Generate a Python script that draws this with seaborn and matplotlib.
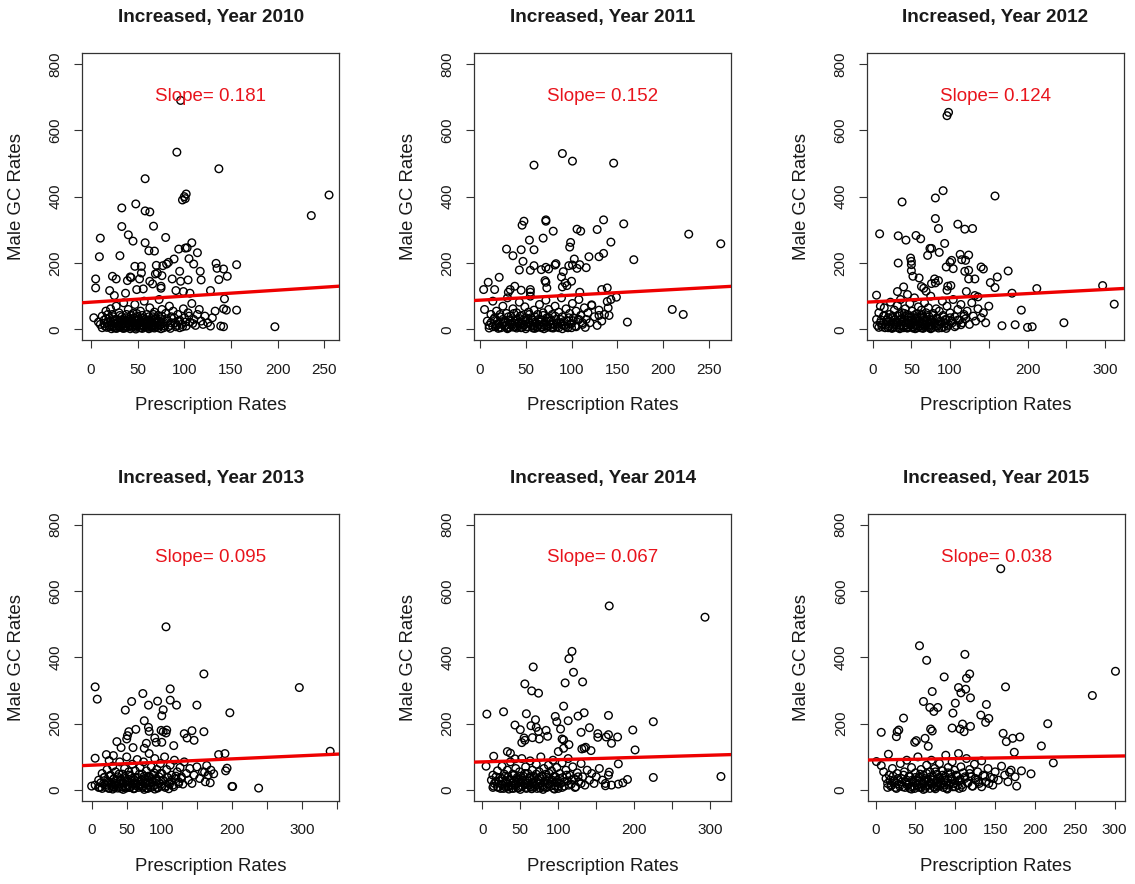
import matplotlib
matplotlib.use("Agg")
import matplotlib.pyplot as plt
import numpy as np
import pandas as pd
import seaborn as sns

years = [2010, 2011, 2012, 2013, 2014, 2015]
slopes = [0.181, 0.152, 0.124, 0.095, 0.067, 0.038]
intercepts = [82, 88, 83, 75, 85, 91]
x_ticks = [[0, 50, 100, 150, 200, 250],
           [0, 50, 100, 150, 200, 250],
           [0, 50, 100, 150, 200, 250, 300],
           [0, 50, 100, 150, 200, 250, 300, 350],
           [0, 50, 100, 150, 200, 250, 300],
           [0, 50, 100, 150, 200, 250, 300]]
x_tick_labels = [["0", "50", "100", "150", "200", "250"],
                 ["0", "50", "100", "150", "200", "250"],
                 ["0", "50", "100", "", "200", "", "300"],
                 ["0", "50", "100", "", "200", "", "300", ""],
                 ["0", "50", "100", "", "200", "", "300"],
                 ["0", "50", "100", "150", "200", "250", "300"]]
y_ticks = [0, 200, 400, 600, 800]
x_limits = [(-9.3, 266), (-6.2, 274.5), (-7.3, 324.6), (-13.3, 353), (-10.5, 327.6), (-10, 312.6)]
y_limits = (-32, 832)

# (prescription rate, male GC rate) pairs
pts_2010 = [
    (96, 690), (92, 534), (137, 484), (58, 454), (100, 400), (101, 394), (98, 390), (102, 408), (255, 405),
    (236, 343), (33, 366), (48, 378), (58, 357), (63, 354), (33, 310), (67, 311), (40, 285), (45, 266),
    (10, 275), (80, 277), (58, 261), (108, 261), (103, 246), (101, 245), (94, 242), (62, 237), (68, 236),
    (9, 219), (31, 222), (114, 231), (89, 212), (83, 202), (81, 197), (105, 213), (110, 197), (134, 199),
    (156, 195), (47, 190), (54, 190), (70, 193), (77, 192), (135, 184), (142, 182), (117, 175), (95, 175),
    (42, 158), (43, 156), (23, 160), (27, 152), (54, 170), (52, 152), (69, 167), (71, 170), (76, 162),
    (146, 160), (137, 150), (5, 152), (5, 125), (39, 147), (87, 152), (96, 145), (104, 149), (118, 149),
    (63, 145), (66, 137), (49, 120), (56, 122), (75, 130), (75, 124), (20, 117), (25, 102), (37, 109),
    (91, 117), (99, 114), (106, 109), (128, 117), (143, 92), (142, 62), (145, 58), (156, 58), (197, 8),
    (139, 10), (142, 8),
    (3, 35), (8, 22), (10, 15), (12, 40), (14, 28), (15, 10), (16, 55), (18, 20), (19, 8), (20, 35),
    (21, 62), (22, 14), (23, 45), (24, 25), (25, 5), (26, 18), (27, 70), (28, 30), (29, 12), (30, 50),
    (31, 22), (32, 8), (33, 38), (34, 15), (35, 80), (36, 28), (37, 5), (38, 45), (39, 18), (40, 60),
    (41, 10), (42, 32), (43, 22), (44, 6), (45, 48), (46, 15), (47, 75), (48, 28), (49, 10), (50, 40),
    (51, 20), (52, 5), (53, 55), (54, 25), (55, 12), (56, 35), (57, 85), (58, 18), (59, 8), (60, 45),
    (61, 28), (62, 12), (63, 65), (64, 22), (65, 5), (66, 38), (67, 15), (68, 52), (69, 30), (70, 8),
    (71, 20), (72, 42), (73, 90), (74, 12), (75, 32), (76, 60), (77, 18), (78, 5), (80, 48), (82, 25),
    (84, 70), (85, 12), (86, 38), (88, 55), (90, 20), (91, 8), (93, 45), (95, 28), (97, 15), (99, 62),
    (100, 35), (102, 10), (104, 50), (106, 22), (108, 78), (110, 30), (112, 12), (114, 45), (116, 60),
    (118, 25), (120, 15), (122, 40), (125, 20), (128, 10), (130, 35), (133, 55),
    (22, 2), (28, 4), (35, 3), (42, 2), (48, 1), (55, 3), (62, 2), (68, 4), (75, 2), (85, 3), (95, 5),
    (12, 5), (14, 18), (16, 32), (17, 6), (18, 45), (20, 12), (21, 25), (23, 8), (24, 38), (25, 16),
    (26, 30), (27, 3), (29, 22), (30, 8), (31, 42), (32, 15), (33, 28), (34, 4), (35, 20), (36, 10),
    (37, 35), (38, 25), (39, 6), (40, 30), (41, 18), (42, 12), (43, 42), (44, 26), (45, 9), (46, 35),
    (47, 20), (48, 6), (49, 48), (50, 15), (51, 30), (52, 12), (53, 22), (54, 5), (55, 42), (56, 20),
    (57, 8), (58, 30), (59, 15), (60, 25), (61, 6), (62, 38), (63, 18), (64, 10), (65, 28), (66, 6),
    (67, 45), (68, 20), (69, 12), (70, 35), (72, 5), (73, 25), (74, 15), (76, 40), (78, 22), (79, 10),
    (81, 32), (83, 8), (86, 20), (89, 35), (92, 12), (94, 25), (98, 8), (101, 22), (105, 40), (109, 18),
]
pts_2011 = [
    (90, 530), (101, 507), (59, 495), (146, 501), (72, 330), (72, 326), (48, 326), (46, 314), (135, 330),
    (157, 318), (80, 296), (106, 302), (110, 296), (128, 301), (228, 287), (263, 258), (54, 269), (69, 275),
    (99, 262), (98, 248), (143, 263), (29, 242), (45, 240), (59, 240), (36, 222), (135, 229), (130, 219),
    (119, 219), (103, 212), (101, 194), (168, 210), (47, 205), (83, 198), (82, 194), (59, 192), (72, 187),
    (67, 180), (75, 182), (55, 178), (43, 179), (109, 195), (106, 184), (116, 186), (97, 192), (91, 174),
    (89, 158), (21, 157), (9, 142), (16, 120), (4, 120), (71, 147), (72, 142), (73, 125), (100, 145),
    (93, 140), (95, 132), (90, 128), (38, 130), (33, 120), (31, 112), (45, 118), (55, 120), (55, 112),
    (133, 120), (139, 125), (149, 97), (139, 84), (122, 74), (141, 42), (161, 22), (130, 42), (210, 60),
    (222, 45), (109, 112),
    (5, 60), (8, 25), (10, 12), (12, 45), (14, 85), (15, 30), (17, 8), (18, 55), (20, 18), (22, 38),
    (23, 5), (25, 70), (26, 22), (28, 12), (29, 48), (30, 95), (31, 28), (32, 6), (34, 40), (35, 15),
    (36, 62), (38, 25), (39, 8), (40, 50), (42, 18), (43, 82), (44, 32), (45, 5), (46, 42), (48, 12),
    (49, 68), (50, 28), (52, 8), (53, 52), (54, 20), (55, 100), (56, 35), (58, 10), (59, 58), (60, 22),
    (62, 6), (63, 45), (64, 15), (65, 75), (66, 30), (68, 8), (69, 50), (70, 18), (72, 88), (73, 35),
    (74, 10), (75, 60), (76, 25), (78, 5), (79, 45), (80, 15), (82, 70), (83, 30), (84, 8), (86, 52),
    (88, 20), (89, 95), (90, 38), (92, 12), (94, 62), (95, 25), (96, 5), (98, 48), (100, 18), (101, 78),
    (102, 35), (104, 10), (105, 55), (107, 28), (108, 90), (110, 42), (112, 15), (114, 65), (116, 30),
    (118, 50), (120, 20), (122, 72), (125, 38), (128, 12), (130, 58), (133, 25), (136, 45), (140, 65),
    (143, 90), (20, 3), (30, 2), (40, 4), (50, 2), (60, 3), (70, 2), (80, 4), (90, 2), (100, 5),
    (10, 4), (12, 20), (14, 8), (16, 35), (18, 12), (19, 26), (21, 6), (22, 45), (24, 15), (25, 30),
    (27, 9), (28, 22), (30, 5), (31, 38), (33, 14), (34, 25), (36, 7), (37, 48), (38, 18), (40, 30),
    (41, 10), (43, 22), (44, 40), (46, 6), (47, 28), (48, 15), (50, 35), (51, 8), (53, 20), (54, 45),
    (56, 12), (57, 28), (58, 4), (60, 38), (61, 18), (63, 8), (64, 30), (66, 22), (67, 5), (69, 42),
    (70, 12), (72, 25), (73, 6), (75, 35), (77, 15), (78, 28), (80, 8), (82, 40), (84, 18), (86, 5),
    (88, 30), (90, 14), (92, 24), (94, 8), (97, 35), (99, 16), (102, 26), (105, 8), (108, 30), (112, 20),
    (115, 6),
]
pts_2012 = [
    (98, 654), (96, 644), (91, 418), (81, 396), (158, 402), (38, 384), (81, 334), (85, 304), (110, 317),
    (119, 302), (129, 304), (9, 288), (33, 282), (43, 269), (56, 283), (62, 273), (93, 259), (74, 244),
    (76, 244), (86, 232), (71, 223), (113, 226), (115, 210), (124, 224), (120, 208), (49, 215), (50, 205),
    (50, 195), (50, 177), (52, 160), (33, 200), (102, 208), (100, 202), (95, 188), (104, 183), (119, 175),
    (124, 178), (124, 152), (132, 152), (140, 188), (143, 182), (175, 176), (60, 155), (80, 152), (85, 147),
    (81, 140), (76, 138), (161, 158), (152, 141), (158, 126), (97, 130), (101, 132), (96, 118), (40, 128),
    (32, 114), (45, 105), (63, 129), (66, 124), (69, 115), (121, 114), (132, 102), (136, 98), (180, 109),
    (212, 123), (297, 132), (312, 76), (5, 103), (10, 70), (192, 58), (167, 11), (184, 14), (200, 6),
    (206, 8), (247, 20),
    (5, 30), (6, 12), (8, 50), (10, 20), (12, 8), (14, 40), (15, 65), (17, 15), (18, 28), (20, 5),
    (22, 45), (23, 82), (24, 18), (26, 35), (27, 8), (28, 58), (30, 22), (31, 12), (32, 72), (33, 40),
    (34, 5), (35, 28), (36, 90), (37, 15), (38, 50), (40, 10), (41, 35), (42, 62), (43, 20), (44, 5),
    (45, 45), (46, 28), (48, 78), (49, 12), (50, 38), (51, 55), (52, 8), (53, 22), (54, 95), (55, 32),
    (56, 15), (57, 48), (58, 5), (59, 68), (60, 25), (61, 10), (62, 42), (63, 58), (64, 18), (65, 5),
    (66, 35), (67, 80), (68, 12), (69, 50), (70, 25), (71, 8), (72, 65), (73, 38), (74, 15), (75, 100),
    (76, 28), (77, 5), (78, 48), (80, 18), (82, 62), (83, 35), (84, 10), (86, 55), (88, 22), (90, 85),
    (91, 42), (92, 8), (94, 30), (96, 70), (98, 15), (100, 50), (102, 25), (104, 90), (106, 38), (108, 12),
    (110, 60), (112, 28), (114, 75), (116, 20), (118, 45), (120, 32), (122, 55), (125, 15), (128, 80),
    (130, 40), (133, 25), (136, 62), (140, 35), (143, 50), (146, 20), (150, 70),
    (25, 3), (35, 2), (45, 4), (55, 2), (65, 3), (75, 2), (85, 4), (95, 3),
    (8, 6), (11, 28), (13, 14), (15, 42), (16, 5), (18, 22), (20, 35), (21, 10), (23, 25), (25, 5),
    (26, 40), (28, 16), (29, 30), (31, 6), (32, 20), (34, 45), (35, 12), (37, 32), (38, 22), (40, 5),
    (41, 48), (43, 14), (44, 28), (46, 8), (47, 38), (49, 18), (50, 28), (52, 4), (53, 42), (55, 12),
    (56, 25), (58, 35), (59, 10), (61, 20), (62, 5), (64, 45), (65, 15), (67, 28), (68, 8), (70, 38),
    (71, 18), (73, 5), (74, 30), (76, 12), (78, 42), (79, 22), (81, 8), (83, 32), (85, 15), (87, 25),
    (89, 5), (91, 38), (93, 18), (95, 28), (97, 10), (100, 35), (103, 20), (106, 8), (110, 28), (114, 14),
    (118, 40),
]
pts_2013 = [
    (106, 492), (160, 350), (5, 311), (8, 274), (296, 309), (112, 305), (112, 271), (121, 256), (73, 291),
    (94, 268), (81, 256), (57, 267), (48, 241), (102, 242), (100, 224), (150, 256), (197, 233), (75, 209),
    (81, 189), (82, 177), (63, 183), (53, 176), (51, 164), (50, 154), (99, 180), (107, 181), (106, 172),
    (102, 176), (143, 179), (160, 176), (132, 170), (136, 157), (146, 150), (36, 146), (42, 128), (90, 157),
    (92, 144), (78, 141), (75, 126), (59, 128), (100, 144), (117, 134), (5, 96), (21, 107), (31, 104),
    (25, 89), (181, 107), (190, 110), (340, 117), (193, 66), (191, 58), (164, 74), (174, 49), (169, 22),
    (161, 54), (200, 11), (201, 11), (238, 6), (0, 12),
    (5, 15), (10, 30), (12, 8), (15, 50), (17, 20), (18, 38), (20, 10), (22, 62), (24, 25), (25, 5),
    (27, 45), (28, 15), (30, 72), (31, 32), (32, 8), (34, 55), (35, 20), (37, 40), (38, 12), (40, 85),
    (41, 28), (42, 5), (44, 48), (45, 18), (47, 65), (48, 35), (49, 10), (50, 100), (52, 25), (53, 55),
    (54, 8), (56, 42), (57, 15), (58, 78), (60, 30), (61, 5), (62, 58), (64, 20), (65, 92), (66, 38),
    (68, 12), (69, 68), (70, 25), (72, 48), (73, 8), (74, 85), (76, 35), (77, 18), (78, 58), (80, 5),
    (81, 42), (82, 110), (84, 22), (85, 70), (86, 32), (88, 12), (89, 52), (90, 95), (92, 28), (93, 62),
    (94, 8), (96, 40), (98, 80), (99, 18), (100, 50), (102, 30), (104, 100), (105, 12), (107, 62),
    (108, 38), (110, 22), (112, 75), (114, 45), (116, 15), (118, 90), (120, 35), (122, 55), (124, 25),
    (126, 68), (128, 40), (130, 18), (132, 85), (135, 50), (138, 30), (140, 65), (143, 20), (146, 45),
    (150, 70), (154, 35), (158, 55), (162, 25), (166, 45), (170, 60),
    (30, 3), (45, 2), (60, 4), (75, 2), (90, 3), (110, 4),
    (10, 8), (13, 22), (15, 5), (18, 38), (20, 16), (22, 28), (24, 6), (26, 42), (28, 20), (30, 10),
    (32, 35), (34, 15), (35, 26), (37, 6), (39, 48), (40, 18), (42, 32), (44, 10), (45, 22), (47, 40),
    (49, 6), (50, 28), (52, 15), (54, 45), (55, 8), (57, 30), (59, 20), (60, 5), (62, 38), (63, 14),
    (65, 26), (67, 8), (68, 48), (70, 18), (71, 32), (73, 12), (75, 42), (76, 22), (78, 6), (80, 30),
    (81, 15), (83, 40), (85, 8), (86, 25), (88, 45), (90, 15), (92, 35), (94, 6), (96, 22), (98, 50),
    (100, 12), (102, 28), (105, 8), (108, 38), (111, 18), (114, 30), (117, 10), (120, 42), (124, 20),
    (128, 35),
]
pts_2014 = [
    (167, 555), (293, 521), (118, 418), (114, 396), (120, 355), (67, 371), (56, 320), (65, 299), (74, 292),
    (109, 323), (132, 326), (107, 253), (6, 229), (28, 236), (58, 230), (134, 233), (126, 223), (166, 225),
    (225, 206), (70, 212), (64, 194), (43, 196), (50, 182), (96, 222), (98, 206), (103, 184), (113, 209),
    (71, 189), (74, 177), (84, 180), (86, 162), (55, 157), (56, 150), (52, 143), (66, 158), (75, 154),
    (141, 188), (130, 174), (152, 170), (152, 159), (163, 160), (166, 167), (178, 160), (170, 141),
    (198, 181), (105, 154), (107, 151), (114, 137), (107, 126), (100, 116), (201, 121), (33, 116), (37, 111),
    (15, 102), (43, 94), (131, 124), (134, 126), (136, 129), (143, 119), (5, 72), (179, 79), (167, 54),
    (225, 38), (314, 41), (191, 32), (185, 22), (162, 13), (179, 18),
    (12, 30), (14, 45), (15, 12), (18, 25), (20, 58), (21, 8), (23, 38), (25, 18), (26, 72), (28, 5),
    (30, 42), (31, 22), (33, 60), (34, 10), (36, 32), (37, 85), (38, 15), (40, 48), (41, 5), (42, 28),
    (44, 65), (45, 18), (46, 38), (48, 8), (49, 55), (50, 25), (52, 95), (53, 12), (54, 42), (56, 30),
    (57, 70), (58, 5), (59, 20), (60, 50), (62, 35), (63, 88), (64, 10), (66, 60), (67, 25), (68, 42),
    (70, 15), (71, 78), (72, 5), (73, 32), (75, 55), (76, 20), (77, 100), (79, 40), (80, 10), (81, 65),
    (83, 28), (84, 48), (85, 8), (87, 75), (88, 35), (89, 18), (91, 58), (92, 25), (93, 90), (95, 42),
    (96, 12), (98, 68), (99, 30), (100, 5), (102, 50), (103, 20), (105, 82), (106, 38), (108, 12),
    (110, 60), (112, 28), (113, 95), (115, 45), (117, 18), (119, 70), (121, 35), (123, 10), (125, 52),
    (127, 25), (130, 80), (132, 40), (135, 15), (138, 60), (141, 30), (144, 50), (147, 20), (150, 40),
    (154, 65), (158, 30), (162, 20), (166, 45), (170, 15),
    (35, 3), (50, 2), (65, 4), (80, 2), (95, 3),
    (14, 8), (16, 20), (18, 40), (20, 10), (22, 28), (24, 5), (26, 35), (27, 15), (29, 48), (31, 8),
    (32, 25), (34, 40), (35, 12), (37, 30), (39, 6), (40, 22), (42, 45), (43, 14), (45, 32), (47, 6),
    (48, 25), (50, 42), (51, 10), (53, 30), (55, 18), (56, 50), (58, 8), (60, 28), (61, 15), (63, 40),
    (65, 5), (66, 22), (68, 35), (69, 10), (71, 48), (73, 18), (74, 30), (76, 6), (78, 42), (79, 14),
    (81, 25), (83, 8), (85, 38), (86, 20), (88, 50), (90, 12), (92, 30), (94, 5), (96, 40), (98, 22),
    (100, 12), (102, 35), (105, 8), (108, 25), (111, 45), (114, 15), (118, 30), (122, 8), (126, 40),
    (130, 20),
]
pts_2015 = [
    (157, 667), (55, 435), (112, 409), (64, 391), (301, 358), (118, 350), (114, 337), (86, 341), (163, 311),
    (272, 285), (71, 297), (104, 309), (107, 293), (113, 304), (119, 278), (60, 267), (68, 249), (73, 237),
    (78, 249), (100, 262), (97, 232), (139, 258), (132, 226), (142, 216), (138, 204), (35, 217), (216, 200),
    (7, 174), (26, 161), (29, 181), (27, 176), (69, 184), (71, 178), (109, 199), (96, 187), (106, 184),
    (119, 192), (111, 176), (160, 171), (164, 146), (172, 156), (181, 160), (174, 114), (208, 133),
    (223, 82), (16, 108), (7, 74), (1, 86), (51, 149), (49, 144), (62, 156), (66, 132), (183, 58),
    (195, 49), (177, 12), (168, 54),
    (10, 55), (13, 35), (15, 20), (17, 45), (19, 12), (21, 65), (23, 28), (25, 8), (27, 50), (29, 18),
    (31, 80), (32, 35), (34, 10), (36, 55), (38, 25), (39, 90), (40, 15), (42, 42), (43, 5), (45, 68),
    (46, 30), (48, 12), (50, 52), (51, 22), (53, 100), (54, 38), (55, 8), (57, 62), (58, 18), (60, 45),
    (61, 28), (62, 5), (64, 75), (65, 32), (66, 15), (68, 55), (69, 22), (70, 90), (72, 40), (73, 10),
    (74, 65), (76, 28), (77, 48), (78, 12), (80, 80), (81, 35), (82, 20), (84, 58), (85, 8), (87, 42),
    (88, 105), (89, 25), (91, 68), (92, 15), (94, 50), (95, 32), (96, 85), (98, 20), (99, 60), (100, 10),
    (102, 42), (104, 110), (105, 28), (107, 70), (108, 15), (110, 52), (112, 35), (114, 95), (116, 22),
    (118, 62), (120, 40), (122, 12), (124, 78), (126, 30), (128, 55), (130, 20), (133, 88), (135, 45),
    (138, 25), (141, 65), (144, 38), (147, 15), (150, 55), (154, 30), (158, 72), (162, 45), (166, 25),
    (170, 60), (175, 40),
    (45, 3), (60, 2), (75, 4), (90, 3), (105, 5),
    (15, 8), (18, 30), (20, 15), (22, 42), (24, 22), (26, 5), (28, 35), (30, 12), (33, 25), (35, 45),
    (37, 8), (39, 30), (41, 18), (43, 40), (45, 10), (47, 25), (49, 5), (50, 38), (52, 15), (54, 28),
    (56, 48), (57, 8), (59, 22), (61, 35), (63, 12), (64, 50), (66, 25), (68, 5), (69, 40), (71, 18),
    (72, 30), (74, 8), (75, 55), (77, 22), (79, 38), (80, 12), (82, 28), (84, 45), (86, 15), (87, 30),
    (89, 6), (91, 52), (93, 20), (95, 38), (97, 10), (99, 28), (101, 45), (103, 15), (106, 32), (109, 8),
    (112, 40), (115, 22), (118, 50), (121, 12), (125, 35), (129, 25), (133, 10), (137, 42), (142, 20),
    (148, 35),
]
points = [pts_2010, pts_2011, pts_2012, pts_2013, pts_2014, pts_2015]

sns.set_theme(style="white")
plt.rcParams["font.family"] = ["Liberation Sans", "DejaVu Sans"]

W, H = 1135, 884
fig = plt.figure(figsize=(W / 100, H / 100), dpi=100)

box_lefts = [82.3, 474.3, 867.0, 82.3, 474.3, 867.7]
box_tops = [53.3, 53.3, 53.3, 514.0, 514.0, 514.0]
box_w, box_h = 257.0, 286.7

text_col = "#1a1a1a"
for i, yr in enumerate(years):
    ax = fig.add_axes([box_lefts[i] / W, 1 - (box_tops[i] + box_h) / H, box_w / W, box_h / H])
    df = pd.DataFrame(points[i], columns=["rx", "gc"])
    sns.scatterplot(data=df, x="rx", y="gc", ax=ax, s=30, marker="o",
                    facecolor="none", edgecolor="black", linewidth=1.0, legend=False, zorder=2)
    xl = np.array(x_limits[i])
    ax.plot(xl, intercepts[i] + slopes[i] * xl, color="#ee0000", lw=2.4, zorder=3)
    ax.set_xlim(*x_limits[i])
    ax.set_ylim(*y_limits)
    ax.set_xticks(x_ticks[i])
    ax.set_xticklabels(x_tick_labels[i])
    ax.set_yticks(y_ticks)
    ax.set_yticklabels([str(v) for v in y_ticks], rotation=90, va="center")
    ax.tick_params(axis="both", direction="out", length=5.8, width=0.8, colors="#333333",
                   labelsize=11, labelcolor=text_col, left=True, bottom=True)
    ax.tick_params(axis="x", pad=10.5)
    ax.tick_params(axis="y", pad=8.5)
    for sp in ax.spines.values():
        sp.set_color("#333333")
        sp.set_linewidth(0.9)
    ax.set_title(f"Increased, Year {yr}", fontsize=13.7, fontweight="bold", pad=22.5, color=text_col)
    ax.set_xlabel("Prescription Rates", fontsize=13.4, color=text_col)
    ax.set_ylabel("Male GC Rates", fontsize=13.4, color=text_col)
    ax.xaxis.set_label_coords(0.5, -66 / box_h)
    ax.xaxis.label.set_va("center")
    ax.yaxis.set_label_coords(-66 / box_w, 0.5)
    ax.yaxis.label.set_va("center")
    ax.text(sum(x_limits[i]) / 2, 702, f"Slope= {slopes[i]:.3f}", color="#e8141c",
            fontsize=13.5, ha="center", va="center", zorder=4)
    ax.grid(False)

fig.savefig("out.png", dpi=100, facecolor="white")
